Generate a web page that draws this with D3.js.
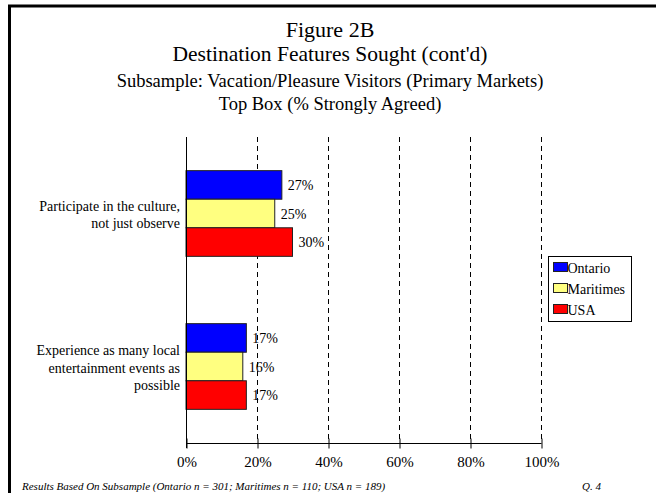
<!DOCTYPE html>
<html>
<head>
<meta charset="utf-8">
<script src="https://cdn.jsdelivr.net/npm/d3@7"></script>
<style>
  body { margin: 0; background: #fff; }
  svg { display: block; font-family: "Liberation Serif", "Times New Roman", serif; }
</style>
</head>
<body>
<svg id="chart" width="656" height="493"></svg>
<script>
// chart data
const categories = [
  ['Participate in the culture,', 'not just observe'],
  ['Experience as many local', 'entertainment events as', 'possible']
];
const seriesNames = ['Ontario', 'Maritimes', 'USA'];
const ontario = [27, 17];
const maritimes = [25, 16];
const usa = [30, 17];
const seriesColors = ['#0000ff', '#ffff80', '#ff0000'];
const tickValues = [0, 20, 40, 60, 80, 100];

const values = [ontario, maritimes, usa];

const svg = d3.select('#chart');

// outer frame (top + left only)
svg.append('path')
  .attr('d', 'M9.5,493 L9.5,6 L656,6')
  .attr('fill', 'none')
  .attr('stroke', '#000')
  .attr('stroke-width', 3);

// titles
const titles = [
  { t: 'Figure 2B', y: 37, s: 22 },
  { t: "Destination Features Sought (cont'd)", y: 61, s: 21.5 },
  { t: 'Subsample: Vacation/Pleasure Visitors (Primary Markets)', y: 87, s: 18.5 },
  { t: 'Top Box (% Strongly Agreed)', y: 110, s: 18.5 }
];
svg.selectAll('text.title')
  .data(titles)
  .join('text')
  .attr('class', 'title')
  .attr('x', 330)
  .attr('y', d => d.y)
  .attr('text-anchor', 'middle')
  .style('font-size', d => d.s + 'px')
  .text(d => d.t);

const x = d3.scaleLinear().domain([0, 100]).range([186, 541]);
const y = d3.scaleBand().domain(d3.range(categories.length)).range([137, 443]);
const inner = d3.scaleBand().domain(d3.range(seriesNames.length))
  .range([0, y.bandwidth() * 0.56]);
const groupOffset = (y.bandwidth() - y.bandwidth() * 0.56) / 2;

// dashed gridlines
svg.selectAll('line.grid')
  .data(tickValues.slice(1))
  .join('line')
  .attr('class', 'grid')
  .attr('x1', d => x(d) + 0.5)
  .attr('x2', d => x(d) + 0.5)
  .attr('y1', 137)
  .attr('y2', 443)
  .attr('stroke', '#000')
  .attr('stroke-dasharray', '5,4');

// bars
categories.forEach((c, ci) => {
  const g = svg.append('g');
  seriesNames.forEach((s, si) => {
    const v = values[si][ci];
    const y0 = y(ci) + groupOffset + inner(si);
    g.append('rect')
      .attr('x', x(0))
      .attr('y', y0)
      .attr('width', x(v) - x(0))
      .attr('height', inner.bandwidth())
      .attr('fill', seriesColors[si])
      .attr('stroke', '#222')
      .attr('stroke-width', 1);
    g.append('text')
      .attr('x', x(v) + 6)
      .attr('y', y0 + inner.bandwidth() / 2 + 5)
      .style('font-size', '14px')
      .text(v + '%');
  });
  // category label
  const lines = c;
  const cy = y(ci) + y.bandwidth() / 2;
  const lh = 17.5;
  g.append('text')
    .attr('text-anchor', 'end')
    .style('font-size', '14px')
    .selectAll('tspan')
    .data(lines)
    .join('tspan')
    .attr('x', 180)
    .attr('y', (d, i) => cy - (lines.length - 1) * lh / 2 + i * lh + 6)
    .text(d => d);
});

// y axis line
svg.append('line')
  .attr('x1', x(0) + 0.5).attr('x2', x(0) + 0.5)
  .attr('y1', 137).attr('y2', 448)
  .attr('stroke', '#000');

// x axis
const xAxis = d3.axisBottom(x)
  .tickValues(tickValues)
  .tickSize(5)
  .tickFormat(d => d + '%');
const ax = svg.append('g')
  .attr('transform', 'translate(0.5,443.5)')
  .call(xAxis);
ax.select('.domain').attr('d', `M${x(0)},0H${x(100)}`).attr('stroke', '#000');
ax.selectAll('.tick line').attr('y1', -5).attr('y2', 5);
ax.selectAll('.tick text')
  .attr('y', 13)
  .style('font-family', '"Liberation Serif", "Times New Roman", serif')
  .style('font-size', '15px')
  .attr('fill', '#000');

// legend
const lg = svg.append('g').attr('transform', 'translate(548.5,256.5)');
lg.append('rect')
  .attr('width', 83).attr('height', 65)
  .attr('fill', '#fff').attr('stroke', '#000');
seriesNames.forEach((s, i) => {
  const ry = 11 + i * 21;
  lg.append('rect')
    .attr('x', 5).attr('y', ry - 5)
    .attr('width', 14).attr('height', 9)
    .attr('fill', seriesColors[i]).attr('stroke', '#222');
  lg.append('text')
    .attr('x', 19).attr('y', ry + 5)
    .style('font-size', '14px')
    .text(s);
});

// footnotes
svg.append('text')
  .attr('x', 22).attr('y', 490)
  .style('font-size', '11px')
  .style('font-style', 'italic')
  .text('Results Based On Subsample (Ontario n = 301; Maritimes n = 110; USA n = 189)');
svg.append('text')
  .attr('x', 582).attr('y', 490)
  .style('font-size', '11px')
  .style('font-style', 'italic')
  .text('Q. 4');
</script>
</body>
</html>
